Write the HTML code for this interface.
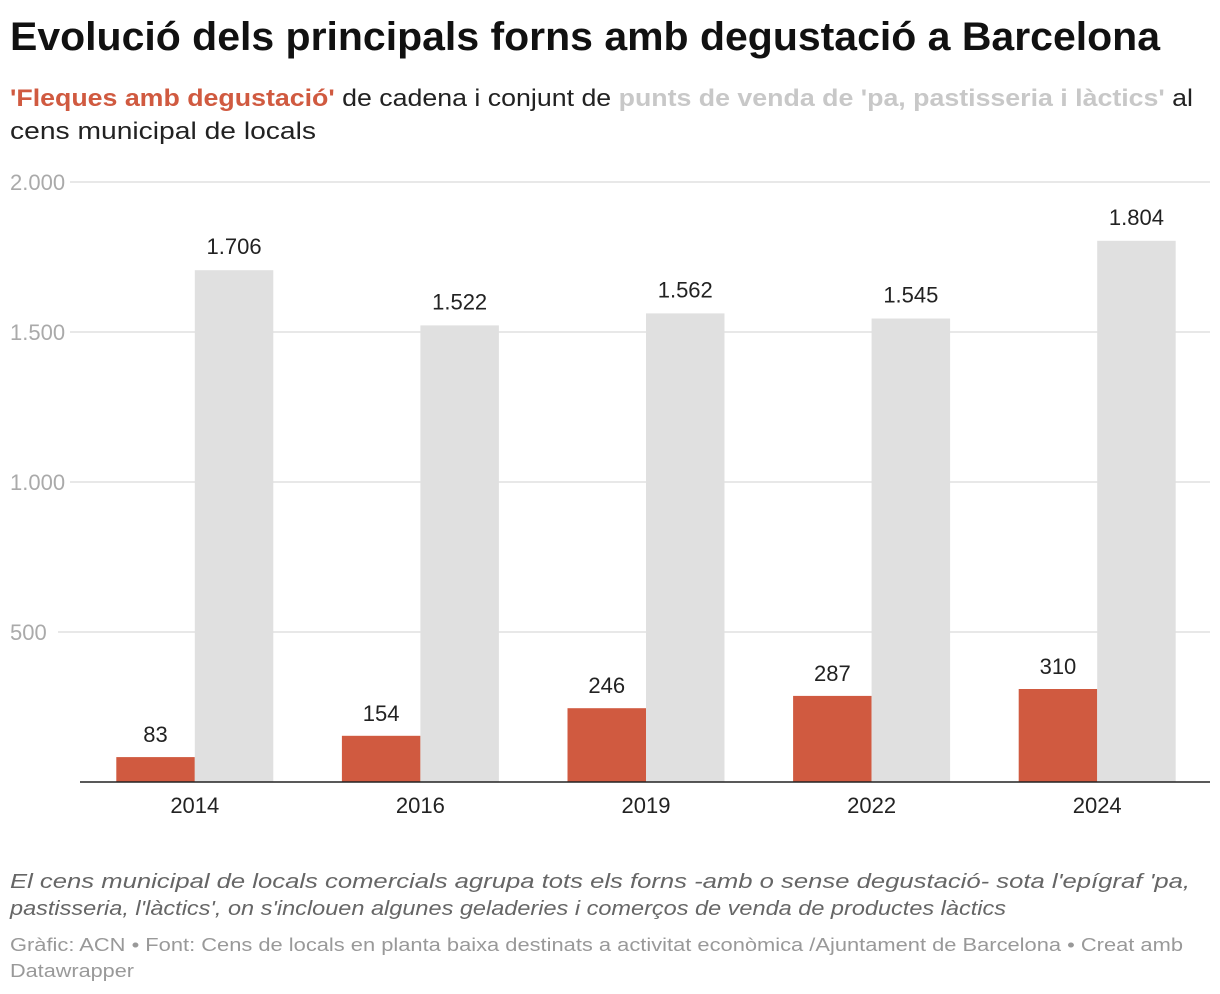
<!DOCTYPE html>
<html><head><meta charset="utf-8"><style>
body{margin:0;background:#fff;}
svg{display:block;font-family:"Liberation Sans",sans-serif;}
</style></head><body>
<svg id="c" width="1220" height="994">
<text x="10" y="50" font-size="40" font-weight="bold" fill="#111" textLength="1150" lengthAdjust="spacingAndGlyphs">Evolució dels principals forns amb degustació a Barcelona</text>
<text x="10" y="106" font-size="24" textLength="1183" lengthAdjust="spacingAndGlyphs"><tspan fill="#d05a40" font-weight="bold">'Fleques amb degustació'</tspan><tspan fill="#222"> de cadena i conjunt de </tspan><tspan fill="#c8c8c8" font-weight="bold">punts de venda de 'pa, pastisseria i làctics'</tspan><tspan fill="#222"> al</tspan></text>
<text x="10" y="139" font-size="24" fill="#222" textLength="306" lengthAdjust="spacingAndGlyphs">cens municipal de locals</text>
<g id="grid"></g><g id="bars"></g>
<text x="10" y="888" font-size="20" font-style="italic" fill="#666" textLength="1180" lengthAdjust="spacingAndGlyphs">El cens municipal de locals comercials agrupa tots els forns -amb o sense degustació- sota l'epígraf 'pa,</text>
<text x="10" y="915" font-size="20" font-style="italic" fill="#666" textLength="996" lengthAdjust="spacingAndGlyphs">pastisseria, l'làctics', on s'inclouen algunes geladeries i comerços de venda de productes làctics</text>
<text x="10" y="951" font-size="18" fill="#999" textLength="1173" lengthAdjust="spacingAndGlyphs">Gràfic: ACN • Font: Cens de locals en planta baixa destinats a activitat econòmica /Ajuntament de Barcelona • Creat amb</text>
<text x="10" y="977" font-size="18" fill="#999" textLength="124" lengthAdjust="spacingAndGlyphs">Datawrapper</text>
</svg>
<script>
const years=["2014","2016","2019","2022","2024"];
const fleques=[83,154,246,287,310];
const totals=[1706,1522,1562,1545,1804];
const ticks=[500,1000,1500,2000];
const tickLabels=["500","1.000","1.500","2.000"];
const fmt=v=>String(v).replace(/\B(?=(\d{3})+(?!\d))/g,".");
const NS="http://www.w3.org/2000/svg";
const y=v=>782-v*0.3;
const x0=82,band=225.6,bw=78.5;
const g=document.getElementById('grid'),b=document.getElementById('bars');
function mk(p,t,a,txt){const e=document.createElementNS(NS,t);for(const k in a)e.setAttribute(k,a[k]);if(txt!=null)e.textContent=txt;p.appendChild(e);return e;}
ticks.forEach((t,i)=>{
 const l=mk(g,'line',{x1:(t>=1000?70:58),x2:1210,y1:y(t),y2:y(t),stroke:'#e0e0e0','stroke-width':1.5});
 
 
 const tx=mk(g,'text',{x:10,y:y(t)+8,'font-size':22,fill:'#aaa'},tickLabels[i]);
 
 
});
years.forEach((yr,i)=>{
 const c=x0+band*(i+0.5);
 const r=mk(b,'rect',{x:c-bw,y:y(fleques[i]),width:bw,height:fleques[i]*0.3,fill:'#d05a40'});
 
 
 const r2=mk(b,'rect',{x:c,y:y(totals[i]),width:bw,height:totals[i]*0.3,fill:'#e0e0e0'});
 
 
 const l1=mk(b,'text',{x:c-bw/2,y:y(fleques[i])-15,'font-size':22,fill:'#222','text-anchor':'middle'},fmt(fleques[i]));
 
 
 const l2=mk(b,'text',{x:c+bw/2,y:y(totals[i])-16,'font-size':22,fill:'#222','text-anchor':'middle'},fmt(totals[i]));
 
 
 const xl=mk(b,'text',{x:c,y:813,'font-size':22,fill:'#222','text-anchor':'middle'},yr);
 
 
});
const ax=mk(b,'line',{x1:80,x2:1210,y1:782,y2:782,stroke:'#222','stroke-width':1.5});


</script>
</body></html>
